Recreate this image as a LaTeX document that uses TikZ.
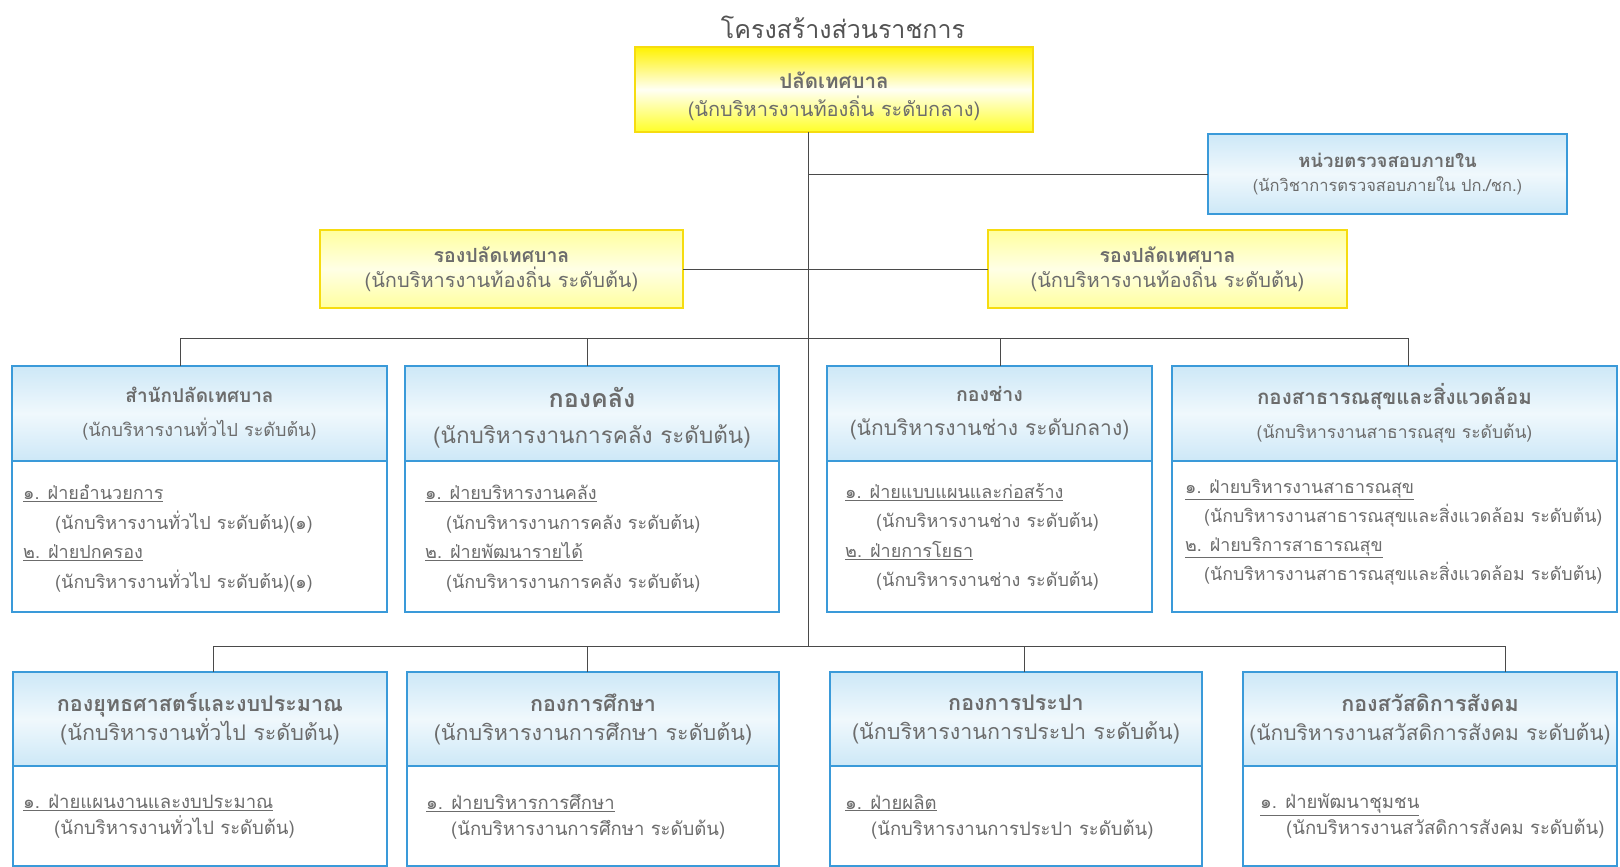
\documentclass[tikz,border=0pt]{standalone}
\usepackage{fontspec}
\newfontfamily\thaifont[Script=Thai]{Loma}
\usepackage{tikz}
\usetikzlibrary{positioning}
\definecolor{boxblue}{HTML}{3A9AD9}
\definecolor{headblue}{HTML}{CDE8F7}
\definecolor{boxyellow}{HTML}{F6DC10}
\definecolor{linegray}{HTML}{4A4A4A}
\definecolor{textgray}{HTML}{6C6C6C}
\definecolor{headgray}{HTML}{535353}

\begin{document}
\begin{tikzpicture}[x=1pt, y=-1pt,
    every node/.style={font=\thaifont\fontsize{16}{20}\selectfont, text=textgray},
    link/.style={draw=linegray, line width=0.9pt},
    chief/.style={draw=boxyellow, line width=1.6pt, top color=yellow!90!orange, bottom color=yellow!85, middle color=yellow!4,
      anchor=north west, inner sep=0pt, outer sep=0pt, align=center, font=\thaifont\fontsize{18}{28}\selectfont},
    deputy/.style={draw=boxyellow, line width=1.6pt, top color=yellow!38, bottom color=yellow!38, middle color=yellow!10,
      anchor=north west, inner sep=0pt, outer sep=0pt, align=center, font=\thaifont\fontsize{18}{25}\selectfont},
    head/.style={draw=boxblue, line width=1.8pt, top color=headblue, bottom color=headblue, middle color=headblue!30,
      anchor=north west, inner sep=0pt, outer sep=0pt, align=center, font=\thaifont\fontsize{18}{34}\selectfont},
    lowhead/.style={head, font=\thaifont\fontsize{18}{29}\selectfont},
    body/.style={draw=boxblue, line width=1.8pt, fill=white, anchor=north, inner sep=0pt, outer sep=0pt},
    items/.style={anchor=north west, inner sep=0pt, align=left, font=\thaifont\fontsize{18}{29.5}\selectfont},
    items2/.style={anchor=north west, inner sep=0pt, align=left, font=\thaifont\fontsize{18.5}{26}\selectfont}
  ]
  \useasboundingbox (0,0) rectangle (1620,867);

  % title
  \node[text=headgray, font=\thaifont\fontsize{25}{30}\selectfont] (title) at (843,27) {โครงสร้างส่วนราชการ};

  % chief and deputies
  \node[chief, minimum width=398pt, minimum height=85pt] (top) at (635,47)
    {\rule{0pt}{31pt}{\bfseries\fontsize{20.5}{20}\selectfont ปลัดเทศบาล}\\{\fontsize{20}{20}\selectfont(นักบริหารงานท้องถิ่น ระดับกลาง)}};
  \node[head, minimum width=359pt, minimum height=80pt, font=\thaifont\fontsize{16}{24}\selectfont] (audit) at (1208,134)
    {{\bfseries\fontsize{18.5}{20}\selectfont หน่วยตรวจสอบภายใน}\\{\fontsize{16.5}{20}\selectfont(นักวิชาการตรวจสอบภายใน ปก./ชก.)}};
  \node[deputy, minimum width=363pt, minimum height=78pt] (dep1) at (320,230)
    {{\bfseries\fontsize{19.5}{20}\selectfont รองปลัดเทศบาล}\\{\fontsize{20}{20}\selectfont(นักบริหารงานท้องถิ่น ระดับต้น)}};
  \node[deputy, minimum width=359pt, minimum height=78pt] (dep2) at (988,230)
    {{\bfseries\fontsize{19.5}{20}\selectfont รองปลัดเทศบาล}\\{\fontsize{20}{20}\selectfont(นักบริหารงานท้องถิ่น ระดับต้น)}};

  % first row of divisions
  \node[head, minimum width=375pt, minimum height=95pt] (sn) at (12,366)
    {{\bfseries\fontsize{19}{20}\selectfont สำนักปลัดเทศบาล}\\(นักบริหารงานทั่วไป ระดับต้น)};
  \node[body, minimum width=375pt, minimum height=151pt, below=0pt of sn] (snb) {};
  \node[items, below right=24pt and 11pt of sn.south west] (snt)
    {\underline{๑. ฝ่ายอำนวยการ}\\\hspace*{32pt}(นักบริหารงานทั่วไป ระดับต้น)(๑)\\
     \underline{๒. ฝ่ายปกครอง}\\\hspace*{32pt}(นักบริหารงานทั่วไป ระดับต้น)(๑)};

  \node[head, minimum width=374pt, minimum height=95pt, font=\thaifont\fontsize{18}{36}\selectfont] (kk) at (405,366)
    {\rule{0pt}{28pt}{\bfseries\fontsize{25}{20}\selectfont กองคลัง}\\{\fontsize{22.5}{20}\selectfont(นักบริหารงานการคลัง ระดับต้น)}};
  \node[body, minimum width=374pt, minimum height=151pt, below=0pt of kk] (kkb) {};
  \node[items, below right=24pt and 20pt of kk.south west] (kkt)
    {\underline{๑. ฝ่ายบริหารงานคลัง}\\\hspace*{21pt}(นักบริหารงานการคลัง ระดับต้น)\\
     \underline{๒. ฝ่ายพัฒนารายได้}\\\hspace*{21pt}(นักบริหารงานการคลัง ระดับต้น)};

  \node[head, minimum width=325pt, minimum height=95pt] (kc) at (827,366)
    {{\bfseries\fontsize{19.5}{20}\selectfont กองช่าง}\\{\fontsize{21}{20}\selectfont(นักบริหารงานช่าง ระดับกลาง)}};
  \node[body, minimum width=325pt, minimum height=151pt, below=0pt of kc] (kcb) {};
  \node[items, below right=22pt and 18pt of kc.south west] (kct)
    {\underline{๑. ฝ่ายแบบแผนและก่อสร้าง}\\\hspace*{31pt}(นักบริหารงานช่าง ระดับต้น)\\
     \underline{๒. ฝ่ายการโยธา}\\\hspace*{31pt}(นักบริหารงานช่าง ระดับต้น)};

  \node[head, minimum width=445pt, minimum height=95pt] (ks) at (1172,366)
    {{\bfseries\fontsize{20.5}{20}\selectfont กองสาธารณสุขและสิ่งแวดล้อม}\\{\fontsize{17.5}{20}\selectfont(นักบริหารงานสาธารณสุข ระดับต้น)}};
  \node[body, minimum width=445pt, minimum height=151pt, below=0pt of ks] (ksb) {};
  \node[items, below right=18pt and 13pt of ks.south west, font=\thaifont\fontsize{17.8}{29}\selectfont] (kst)
    {\underline{๑. ฝ่ายบริหารงานสาธารณสุข}\\\hspace*{19pt}(นักบริหารงานสาธารณสุขและสิ่งแวดล้อม ระดับต้น)\\
     \underline{๒. ฝ่ายบริการสาธารณสุข}\\\hspace*{19pt}(นักบริหารงานสาธารณสุขและสิ่งแวดล้อม ระดับต้น)};

  % second row of divisions
  \node[lowhead, minimum width=374pt, minimum height=94pt] (ky) at (13,672)
    {{\bfseries\fontsize{21.5}{20}\selectfont กองยุทธศาสตร์และงบประมาณ}\\{\fontsize{21.5}{20}\selectfont(นักบริหารงานทั่วไป ระดับต้น)}};
  \node[body, minimum width=374pt, minimum height=100pt, below=0pt of ky] (kyb) {};
  \node[items2, below right=28pt and 10pt of ky.south west] (kyt)
    {\underline{๑. ฝ่ายแผนงานและงบประมาณ}\\\hspace*{31pt}(นักบริหารงานทั่วไป ระดับต้น)};

  \node[lowhead, minimum width=372pt, minimum height=94pt] (ke) at (407,672)
    {{\bfseries\fontsize{21.5}{20}\selectfont กองการศึกษา}\\{\fontsize{21.5}{20}\selectfont(นักบริหารงานการศึกษา ระดับต้น)}};
  \node[body, minimum width=372pt, minimum height=100pt, below=0pt of ke] (keb) {};
  \node[items2, below right=28pt and 19pt of ke.south west] (ket)
    {\underline{๑. ฝ่ายบริหารการศึกษา}\\\hspace*{25pt}(นักบริหารงานการศึกษา ระดับต้น)};

  \node[lowhead, minimum width=372pt, minimum height=94pt] (kp) at (830,672)
    {{\bfseries\fontsize{21.5}{20}\selectfont กองการประปา}\\{\fontsize{21.5}{20}\selectfont(นักบริหารงานการประปา ระดับต้น)}};
  \node[body, minimum width=372pt, minimum height=100pt, below=0pt of kp] (kpb) {};
  \node[items2, below right=28pt and 15pt of kp.south west] (kpt)
    {\underline{๑. ฝ่ายผลิต}\\\hspace*{26pt}(นักบริหารงานการประปา ระดับต้น)};

  \node[lowhead, minimum width=374pt, minimum height=94pt] (kw) at (1243,672)
    {{\bfseries\fontsize{21.5}{20}\selectfont กองสวัสดิการสังคม}\\{\fontsize{21}{20}\selectfont(นักบริหารงานสวัสดิการสังคม ระดับต้น)}};
  \node[body, minimum width=374pt, minimum height=100pt, below=0pt of kw] (kwb) {};
  \node[items2, below right=28pt and 17pt of kw.south west] (kwt)
    {\underline{๑. ฝ่ายพัฒนาชุมชน}\\\hspace*{26pt}(นักบริหารงานสวัสดิการสังคม ระดับต้น)};

  % connectors
  \coordinate (trunk) at (808,132);
  \coordinate (bus2) at (808,646);
  \coordinate (d1) at (180,338);
  \coordinate (d2) at (587,338);
  \coordinate (d3) at (1000,338);
  \coordinate (d4) at (1408,338);
  \coordinate (e1) at (213,646);
  \coordinate (e2) at (587,646);
  \coordinate (e3) at (1024,646);
  \coordinate (e4) at (1505,646);

  \draw[link] (top.south -| trunk) -- (bus2);
  \draw[link] (trunk |- audit.west) -- (audit.west);
  \draw[link] (dep1.east) -- (dep2.west);
  \draw[link] (d1) -- (d4);
  \draw[link] (e1) -- (e4);
  \foreach \d/\b in {d1/sn, d2/kk, d3/kc, d4/ks, e1/ky, e2/ke, e3/kp, e4/kw}
    \draw[link] (\d) -- (\d |- \b.north);
\end{tikzpicture}
\end{document}
